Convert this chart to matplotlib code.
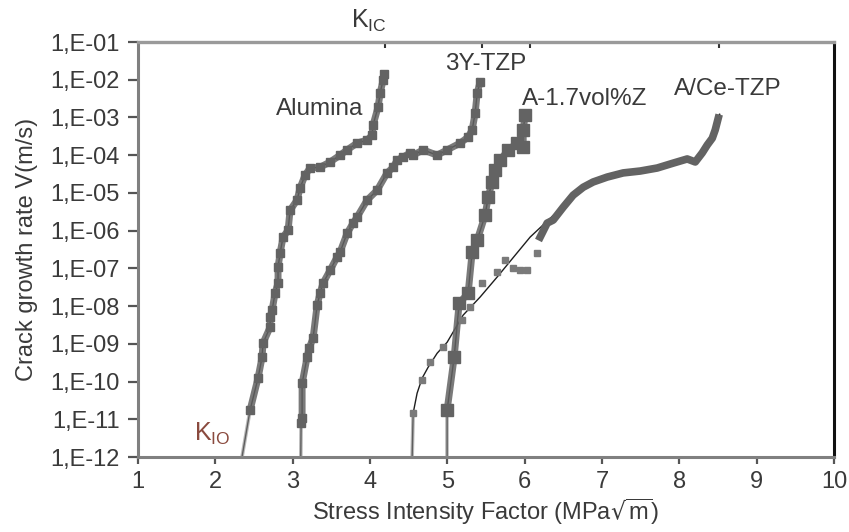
import numpy as np
import matplotlib.pyplot as plt
from matplotlib.ticker import FixedLocator, NullLocator

plt.rcParams['font.family'] = ['Liberation Sans', 'DejaVu Sans']
plt.rcParams['mathtext.default'] = 'regular'

# log10 of crack growth rate V (m/s) against K (MPa*sqrt(m))
alumina_k = [2.449, 2.552, 2.604, 2.617, 2.708, 2.708, 2.734, 2.772, 2.811, 2.811,
             2.837, 2.876, 2.941, 2.966, 3.057, 3.096, 3.160, 3.225, 3.354, 3.484,
             3.613, 3.704, 3.833, 3.963, 4.027, 4.040, 4.105, 4.131, 4.170, 4.180]
alumina_logv = [-10.76, -9.91, -9.36, -8.98, -8.56, -8.29, -8.11, -7.66, -7.39, -6.97,
                -6.60, -6.17, -5.99, -5.46, -5.19, -4.87, -4.53, -4.34, -4.32, -4.18,
                -4.00, -3.86, -3.68, -3.60, -3.47, -3.20, -2.72, -2.35, -2.01, -1.85]
alumina_k0 = 2.345

tzp_k = [3.109, 3.122, 3.122, 3.186, 3.212, 3.264, 3.316, 3.354, 3.393, 3.484,
         3.574, 3.613, 3.704, 3.781, 3.833, 3.963, 4.092, 4.221, 4.299, 4.351,
         4.428, 4.519, 4.558, 4.687, 4.868, 4.997, 5.166, 5.269, 5.321, 5.360,
         5.386, 5.424]
tzp_logv = [-11.11, -10.97, -10.05, -9.36, -9.12, -8.85, -7.98, -7.66, -7.39, -7.05,
            -6.70, -6.57, -6.07, -5.80, -5.64, -5.19, -4.93, -4.47, -4.32, -4.13,
            -4.05, -3.94, -4.00, -3.86, -4.00, -3.86, -3.68, -3.52, -3.33, -2.88,
            -2.35, -2.06]
tzp_k0 = 3.105

az_k = [4.997, 5.088, 5.153, 5.269, 5.321, 5.386, 5.489, 5.528, 5.580, 5.618,
        5.683, 5.787, 5.903, 5.981, 5.981, 6.006]
az_logv = [-10.76, -9.36, -7.92, -7.66, -6.57, -6.25, -5.59, -5.11, -4.71, -4.40,
           -4.13, -3.86, -3.68, -3.79, -3.33, -2.94]
az_k0 = 4.997

ace_fit_k = [4.545, 4.558, 4.609, 4.674, 4.752, 4.868, 4.997, 5.204, 5.424, 5.644,
             6.071, 6.718]
ace_fit_logv = [-12.0, -10.84, -10.31, -9.91, -9.62, -9.25, -8.96, -8.24, -7.76, -7.23,
                -6.17, -4.93]
ace_low_k = [4.558, 4.674, 4.778, 4.946, 5.191, 5.295, 5.450, 5.644, 5.748, 5.851,
             5.942, 6.032, 6.162]
ace_low_logv = [-10.84, -9.97, -9.49, -9.09, -8.37, -8.03, -7.39, -7.10, -6.78, -6.99,
                -7.05, -7.05, -6.60]
ace_k = [6.201, 6.291, 6.369, 6.498, 6.627, 6.757, 6.886, 7.067, 7.274, 7.494,
         7.714, 7.921, 8.102, 8.206, 8.296, 8.361, 8.426, 8.464, 8.503, 8.52]
ace_logv = [-6.17, -5.80, -5.72, -5.38, -5.06, -4.85, -4.71, -4.58, -4.47, -4.42,
            -4.34, -4.21, -4.10, -4.18, -3.94, -3.73, -3.55, -3.33, -3.02, -2.92]

kic_marks = [4.195, 5.450, 6.071, 8.516]
ytick_vals = [1e-12, 1e-11, 1e-10, 1e-9, 1e-8, 1e-7, 1e-6, 1e-5, 1e-4, 1e-3, 1e-2, 1e-1]
ytick_labels = ['1,E-12', '1,E-11', '1,E-10', '1,E-09', '1,E-08', '1,E-07',
                '1,E-06', '1,E-05', '1,E-04', '1,E-03', '1,E-02', '1,E-01']
xticks = [1, 2, 3, 4, 5, 6, 7, 8, 9, 10]

GREY = '#636363'
DARK = '#1e1e1e'
TXT = '#3a3a3a'


def draw_series(ax, k0, k, logv, ms, marker='s', band=4.0):
    v = 10.0 ** np.array(logv)
    # thin black line first, grey band and markers over it
    ax.plot([k0] + list(k), [1e-12] + list(v), color=DARK, lw=1.0, zorder=2)
    ax.plot([k0, k[0]], [1e-12, v[0]], color='#8a8a8a', lw=2.6, alpha=0.6, zorder=3)
    ax.plot(k, v, color=GREY, lw=band, alpha=0.85, solid_joinstyle='round', zorder=3)
    ax.plot(k, v, ls='none', marker=marker, ms=ms, color=GREY, mec=GREY, zorder=4)


fig = plt.figure(figsize=(8.49, 5.32), dpi=100)
ax = fig.add_axes([138 / 849, 1 - 457 / 532, 696 / 849, 415 / 532])

draw_series(ax, alumina_k0, alumina_k, alumina_logv, ms=5.5, band=5.0)
draw_series(ax, tzp_k0, tzp_k, tzp_logv, ms=5.5, band=5.0)
draw_series(ax, az_k0, az_k, az_logv, ms=8, band=5.0)

# A/Ce-TZP: fitted curve, scattered low points, dense upper band
ax.plot(ace_fit_k, 10.0 ** np.array(ace_fit_logv), color=DARK, lw=1.0, zorder=2)
ax.plot([ace_fit_k[0], ace_fit_k[1]], [1e-12, 10.0 ** ace_fit_logv[1]],
        color='#8a8a8a', lw=2.6, alpha=0.6, zorder=3)
ax.plot(ace_low_k, 10.0 ** np.array(ace_low_logv), ls='none', marker='s', ms=4.5,
        color='#7a7a7a', zorder=4)
ace_v = 10.0 ** np.array(ace_logv)
ax.plot(ace_k[-2:], ace_v[-2:], color=DARK, lw=1.2, zorder=2)
ax.plot(ace_k[:-1], ace_v[:-1], color=GREY, lw=5.5, solid_joinstyle='round', zorder=3)

ax.set_xlim(1, 10)
ax.set_yscale('log')
ax.set_ylim(1e-12, 1e-1)
ax.xaxis.set_major_locator(FixedLocator(xticks))
ax.set_xticklabels([str(t) for t in xticks])
ax.yaxis.set_major_locator(FixedLocator(ytick_vals))
ax.yaxis.set_minor_locator(NullLocator())
ax.set_yticklabels(ytick_labels)

ax.tick_params(axis='x', direction='out', length=5, width=1.6, color='#555555',
               labelsize=17, labelcolor=TXT, pad=5, top=False)
ax.tick_params(axis='y', direction='out', length=7, width=1.6, color='#555555',
               labelsize=17, labelcolor=TXT, pad=6)

# K_IC marks on the top axis
sec = ax.secondary_xaxis('top')
sec.set_xticks(kic_marks)
sec.set_xticklabels([])
sec.tick_params(direction='in', length=4, width=1.5, color='#333333')
sec.spines['top'].set_visible(False)

for side in ['left', 'bottom']:
    ax.spines[side].set_color('#808080')
    ax.spines[side].set_linewidth(2.2)
ax.spines['top'].set_color('#9a9a9a')
ax.spines['top'].set_linewidth(2.4)
ax.spines['right'].set_color('#111111')
ax.spines['right'].set_linewidth(2.2)

ax.set_xlabel(r'Stress Intensity Factor (MPa$\sqrt{m}$)', fontsize=17, color=TXT,
              labelpad=3)
ax.set_ylabel('Crack growth rate V(m/s)', fontsize=17, color=TXT, labelpad=9)

ax.text(3.355, 10 ** -2.78, 'Alumina', fontsize=17.5, color=TXT, ha='center', va='center')
ax.text(5.49, 10 ** -1.58, '3Y-TZP', fontsize=17.5, color=TXT, ha='center', va='center')
ax.text(6.78, 10 ** -2.50, 'A-1.7vol%Z', fontsize=17.5, color=TXT, ha='center', va='center')
ax.text(8.62, 10 ** -2.25, 'A/Ce-TZP', fontsize=17.5, color=TXT, ha='center', va='center')

fig.text(351 / 849, 1 - 21 / 532, r'K$_{IC}$', fontsize=18, color=TXT, ha='left', va='center')
ax.text(1.72, 10 ** -11.4, r'K$_{IO}$', fontsize=18, color='#8a4a3e', ha='left', va='center')

fig.savefig('out.png', dpi=100)
